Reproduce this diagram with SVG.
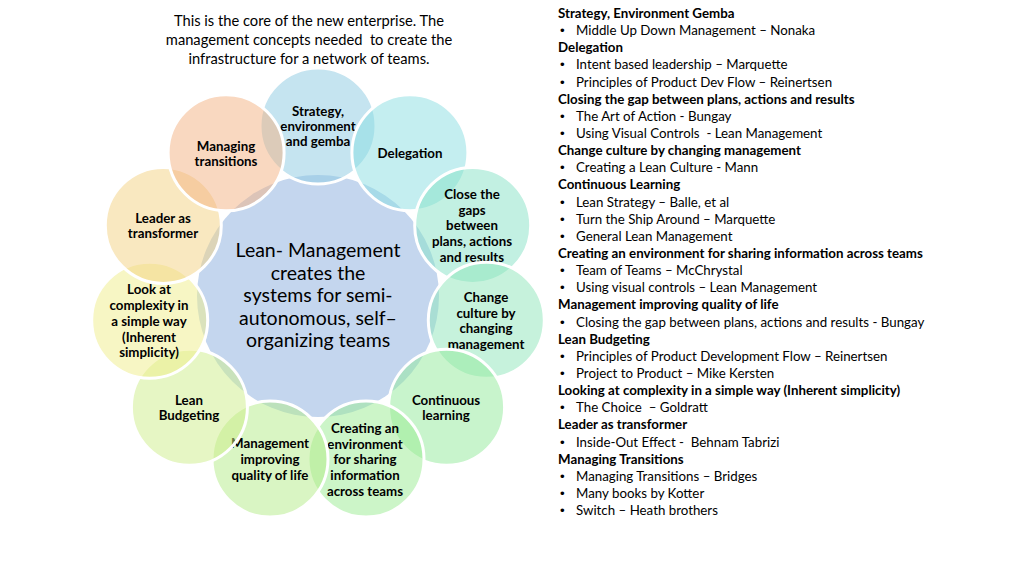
<svg xmlns="http://www.w3.org/2000/svg" width="1024" height="563" viewBox="0 0 1024 563">
<style>
.bg{fill:#ffffff}
.ring{stroke:#ffffff;stroke-width:3;fill-opacity:0.5}
.lbl{font-family:Lato,"Open Sans",sans-serif;font-weight:bold;font-size:13.3px;fill:#000000;text-anchor:middle}
.core{font-family:Lato,"Open Sans",sans-serif;font-size:19.5px;fill:#000000;text-anchor:middle}
.intro{font-family:Lato,"Open Sans",sans-serif;font-size:14.7px;fill:#000000;text-anchor:middle}
.list{font-family:Lato,"Open Sans",sans-serif;font-size:13.3px;fill:#000000}
.list .h{font-weight:bold}
.list .b{font-family:"Liberation Sans",Arial,sans-serif;font-size:13.3px}
</style>
<rect class="bg" x="0" y="0" width="1024" height="563"/>
<g id="intro">
<text class="intro" x="309" y="26">This is the core of the new enterprise. The</text>
<text class="intro" x="309" y="45" xml:space="preserve">management concepts needed  to create the</text>
<text class="intro" x="309" y="64">infrastructure for a network of teams.</text>
</g>
<g id="center">
<circle cx="318" cy="296" r="121" fill="#c4d6ee"/>
<text class="core" x="318" y="257">Lean- Management</text>
<text class="core" x="318" y="280">creates the</text>
<text class="core" x="318" y="302">systems for semi-</text>
<text class="core" x="318" y="325">autonomous, self–</text>
<text class="core" x="318" y="347">organizing teams</text>
</g>
<g id="connectors"></g>
<g id="n1">
<circle class="ring" cx="318" cy="126" r="58" fill="#8bc9e1"/>
<text class="lbl" x="318" y="116">Strategy,</text>
<text class="lbl" x="318" y="131">environment</text>
<text class="lbl" x="318" y="146">and gemba</text>
</g>
<g id="n2">
<circle class="ring" cx="409.9" cy="152.8" r="58" fill="#89dde1"/>
<text class="lbl" x="410" y="158">Delegation</text>
</g>
<g id="n3">
<circle class="ring" cx="472.7" cy="225.4" r="58" fill="#85e1c5"/>
<text class="lbl" x="472" y="199">Close the</text>
<text class="lbl" x="472" y="215">gaps</text>
<text class="lbl" x="472" y="230">between</text>
<text class="lbl" x="472" y="246">plans, actions</text>
<text class="lbl" x="472" y="262">and results</text>
</g>
<g id="n4">
<circle class="ring" cx="486.3" cy="320.2" r="58" fill="#8de5b9"/>
<text class="lbl" x="486" y="302">Change</text>
<text class="lbl" x="486" y="318">culture by</text>
<text class="lbl" x="486" y="333">changing</text>
<text class="lbl" x="486" y="349">management</text>
</g>
<g id="n5">
<circle class="ring" cx="446.6" cy="407.3" r="58" fill="#91e999"/>
<text class="lbl" x="446" y="405">Continuous</text>
<text class="lbl" x="446" y="420">learning</text>
</g>
<g id="n6">
<circle class="ring" cx="366" cy="459.1" r="58" fill="#99eb91"/>
<text class="lbl" x="365" y="433">Creating an</text>
<text class="lbl" x="365" y="449">environment</text>
<text class="lbl" x="365" y="464">for sharing</text>
<text class="lbl" x="365" y="480">information</text>
<text class="lbl" x="365" y="496">across teams</text>
</g>
<g id="n7">
<circle class="ring" cx="270" cy="459.1" r="58" fill="#b3eb87"/>
<text class="lbl" x="270" y="448">Management</text>
<text class="lbl" x="270" y="464">improving</text>
<text class="lbl" x="270" y="480">quality of life</text>
</g>
<g id="n8">
<circle class="ring" cx="189.4" cy="407.3" r="58" fill="#cded89"/>
<text class="lbl" x="189" y="405">Lean</text>
<text class="lbl" x="189" y="420">Budgeting</text>
</g>
<g id="n9">
<circle class="ring" cx="149.7" cy="320.2" r="58" fill="#efed89"/>
<text class="lbl" x="149" y="294">Look at</text>
<text class="lbl" x="149" y="310">complexity in</text>
<text class="lbl" x="149" y="326">a simple way</text>
<text class="lbl" x="149" y="342">(Inherent</text>
<text class="lbl" x="149" y="357">simplicity)</text>
</g>
<g id="n10">
<circle class="ring" cx="163.3" cy="225.4" r="58" fill="#f3d181"/>
<text class="lbl" x="163" y="223">Leader as</text>
<text class="lbl" x="163" y="238">transformer</text>
</g>
<g id="n11">
<circle class="ring" cx="226.1" cy="152.8" r="58" fill="#f3b181"/>
<text class="lbl" x="226" y="151">Managing</text>
<text class="lbl" x="226" y="166">transitions</text>
</g>
<g id="list" class="list">
<text class="h" x="558" y="18">Strategy, Environment Gemba</text>
<text class="b" x="560" y="35.1">•</text><text x="576" y="35.1">Middle Up Down Management – Nonaka</text>
<text class="h" x="558" y="52.3">Delegation</text>
<text class="b" x="560" y="69.4">•</text><text x="576" y="69.4">Intent based leadership – Marquette</text>
<text class="b" x="560" y="86.6">•</text><text x="576" y="86.6">Principles of Product Dev Flow – Reinertsen</text>
<text class="h" x="558" y="103.7">Closing the gap between plans, actions and results</text>
<text class="b" x="560" y="120.8">•</text><text x="576" y="120.8">The Art of Action - Bungay</text>
<text class="b" x="560" y="138">•</text><text x="576" y="138" xml:space="preserve">Using Visual Controls  - Lean Management</text>
<text class="h" x="558" y="155.1">Change culture by changing management</text>
<text class="b" x="560" y="172.3">•</text><text x="576" y="172.3">Creating a Lean Culture - Mann</text>
<text class="h" x="558" y="189.4">Continuous Learning</text>
<text class="b" x="560" y="206.5">•</text><text x="576" y="206.5">Lean Strategy – Balle, et al</text>
<text class="b" x="560" y="223.7">•</text><text x="576" y="223.7">Turn the Ship Around – Marquette</text>
<text class="b" x="560" y="240.8">•</text><text x="576" y="240.8">General Lean Management</text>
<text class="h" x="558" y="258">Creating an environment for sharing information across teams</text>
<text class="b" x="560" y="275.1">•</text><text x="576" y="275.1">Team of Teams – McChrystal</text>
<text class="b" x="560" y="292.3">•</text><text x="576" y="292.3">Using visual controls – Lean Management</text>
<text class="h" x="558" y="309.4">Management improving quality of life</text>
<text class="b" x="560" y="326.5">•</text><text x="576" y="326.5">Closing the gap between plans, actions and results - Bungay</text>
<text class="h" x="558" y="343.7">Lean Budgeting</text>
<text class="b" x="560" y="360.8">•</text><text x="576" y="360.8">Principles of Product Development Flow – Reinertsen</text>
<text class="b" x="560" y="378">•</text><text x="576" y="378">Project to Product – Mike Kersten</text>
<text class="h" x="558" y="395.1">Looking at complexity in a simple way (Inherent simplicity)</text>
<text class="b" x="560" y="412.2">•</text><text x="576" y="412.2" xml:space="preserve">The Choice  – Goldratt</text>
<text class="h" x="558" y="429.4">Leader as transformer</text>
<text class="b" x="560" y="446.5">•</text><text x="576" y="446.5" xml:space="preserve">Inside-Out Effect -  Behnam Tabrizi</text>
<text class="h" x="558" y="463.7">Managing Transitions</text>
<text class="b" x="560" y="480.8">•</text><text x="576" y="480.8">Managing Transitions – Bridges</text>
<text class="b" x="560" y="498">•</text><text x="576" y="498">Many books by Kotter</text>
<text class="b" x="560" y="515.1">•</text><text x="576" y="515.1">Switch – Heath brothers</text>
</g>
</svg>
